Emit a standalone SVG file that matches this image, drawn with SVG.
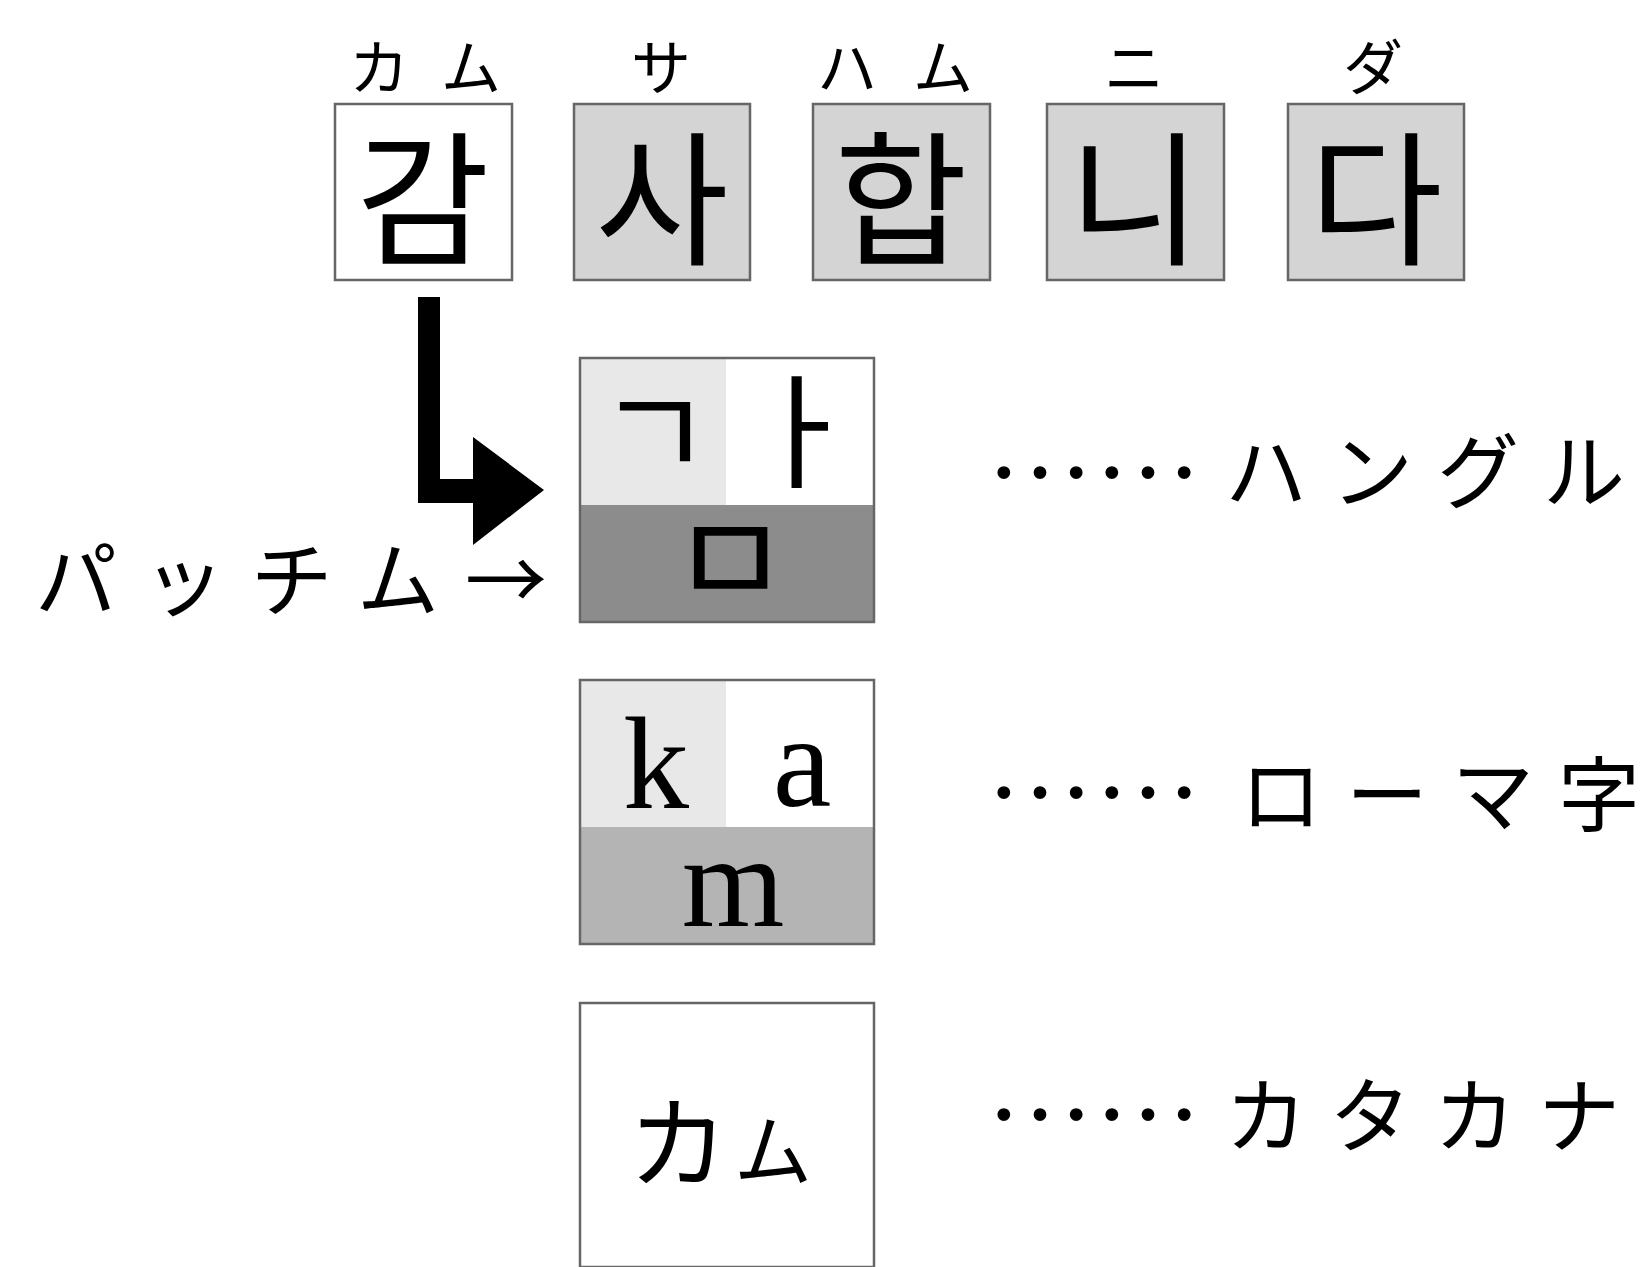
<svg xmlns="http://www.w3.org/2000/svg" width="1650" height="1267" viewBox="0 0 1650 1267">
<style>
.box{stroke:#666;stroke-width:2.5}
.ko{font-family:"Noto Sans CJK KR","Noto Sans CJK JP",sans-serif;fill:#000;text-anchor:middle}
.jp{font-family:"Noto Sans CJK JP",sans-serif;fill:#000}
.lat{font-family:"Liberation Serif",serif;fill:#000;text-anchor:middle}
.big{font-size:145px}
.furi{font-size:60px}
.lab{font-size:82px}
.dots{font-family:"Liberation Serif",serif;font-size:108px;fill:#000}
</style>
<rect width="1650" height="1267" fill="#fff"/>
<g id="syllables">
<g id="s1"><rect class="box" x="335" y="104" width="177" height="176" fill="#fff"/><text class="ko big" x="423" y="254">감</text><text class="jp furi" x="349" y="90" letter-spacing="32">カム</text></g>
<g id="s2"><rect class="box" x="574" y="104" width="176" height="176" fill="#d4d4d4"/><text class="ko big" x="662" y="254">사</text><text class="jp furi" x="661" y="90" text-anchor="middle">サ</text></g>
<g id="s3"><rect class="box" x="813" y="104" width="177" height="176" fill="#d4d4d4"/><text class="ko big" x="901" y="254">합</text><text class="jp furi" x="817" y="90" letter-spacing="36">ハム</text></g>
<g id="s4"><rect class="box" x="1047" y="104" width="177" height="176" fill="#d4d4d4"/><text class="ko big" x="1135" y="254">니</text><text class="jp furi" x="1134" y="90" text-anchor="middle">ニ</text></g>
<g id="s5"><rect class="box" x="1288" y="104" width="176" height="176" fill="#d4d4d4"/><text class="ko big" x="1376" y="254">다</text><text class="jp furi" x="1373" y="90" text-anchor="middle">ダ</text></g>
</g>
<g id="connectors">
<path d="M418 297 H440 V479 H473 V437 L544 490 L473 545 V503 H418 Z" fill="#000"/>
</g>
<g id="hangul">
<rect x="580" y="358" width="146" height="147" fill="#e8e8e8"/>
<rect x="726" y="358" width="148" height="147" fill="#fff"/>
<rect x="580" y="505" width="294" height="117" fill="#8c8c8c"/>
<rect class="box" x="580" y="358" width="294" height="264" fill="none"/>
<text class="ko" x="655" y="478" font-size="125">ㄱ</text>
<text class="ko" x="800" y="478" font-size="125">ㅏ</text>
<text class="ko" x="730" y="606" font-size="130">ㅁ</text>
</g>
<g id="roman">
<rect x="580" y="680" width="146" height="147" fill="#e8e8e8"/>
<rect x="726" y="680" width="148" height="147" fill="#fff"/>
<rect x="580" y="827" width="294" height="117" fill="#b4b4b4"/>
<rect class="box" x="580" y="680" width="294" height="264" fill="none"/>
<text class="lat" x="656" y="808" font-size="132">k</text>
<text class="lat" x="802" y="806" font-size="132">a</text>
<text class="lat" x="733" y="926" font-size="132">m</text>
</g>
<g id="katakana">
<rect class="box" x="580" y="1003" width="294" height="264" fill="#fff"/>
<text class="jp" x="628" y="1180" font-size="100">カ<tspan dx="6" font-size="78">ム</tspan></text>
</g>
<g id="labels">
<text class="dots" x="986" y="477">……</text>
<text class="jp lab" x="1225" y="502" textLength="400" lengthAdjust="spacing">ハングル</text>
<text class="dots" x="986" y="797">……</text>
<text class="jp lab" x="1240" y="825" textLength="400" lengthAdjust="spacing">ローマ字</text>
<text class="dots" x="986" y="1119">……</text>
<text class="jp lab" x="1225" y="1146" textLength="395" lengthAdjust="spacing">カタカナ</text>
<text class="jp lab" x="35" y="610" textLength="512" lengthAdjust="spacing">パッチム→</text>
</g>
</svg>
